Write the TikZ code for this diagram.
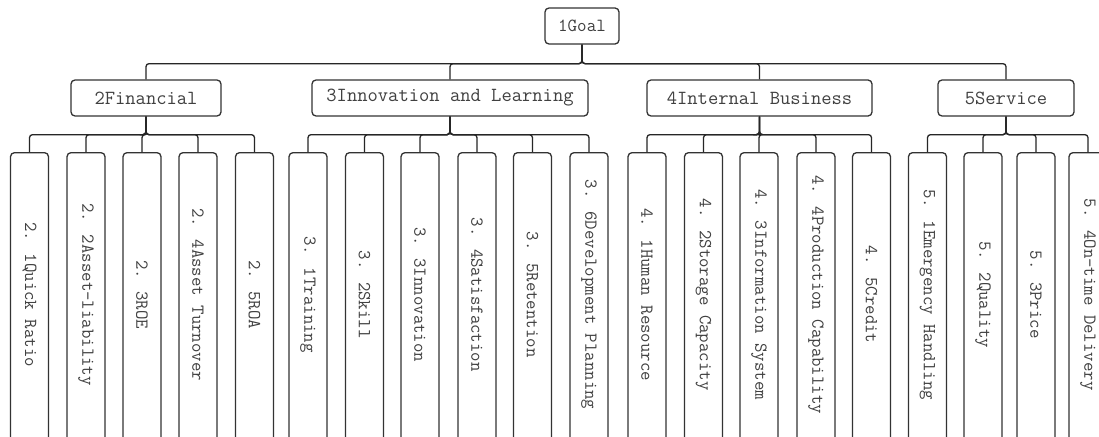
\documentclass[tikz,border=0pt]{standalone}
\usepackage{fontspec}
\begin{document}
\begin{tikzpicture}[x=1pt,y=-1pt,
  box/.style={draw=black!80, line width=1.3pt, rounded corners=4pt, fill=white, inner sep=0pt, text=black!75, font=\ttfamily\fontsize{20}{21}\selectfont},
  rootbox/.style={box, minimum width=74pt, minimum height=36pt, font=\ttfamily\fontsize{18.5}{19}\selectfont},
  midbox/.style={box, minimum height=36pt},
  leafbox/.style={box, minimum width=38pt, minimum height=296pt, anchor=north, font=\ttfamily\fontsize{18.3}{19}\selectfont},
  conn/.style={draw=black!85, line width=1.3pt, rounded corners=3pt}]
\useasboundingbox (0,0) rectangle (1099,436);
\fill[white] (0,0) rectangle (1099,436);
\node[rootbox] (root) at (582,26) {1Goal};
\node[midbox, minimum width=150pt] (fin) at (146,98) {2Financial};
\node[midbox, minimum width=276pt] (inn) at (450,98) {3Innovation and Learning};
\node[midbox, minimum width=225pt] (int) at (759.5,98) {4Internal Business};
\node[midbox, minimum width=136pt] (ser) at (1006,98) {5Service};
\foreach \c in {fin,inn,int,ser}{
  \draw[conn] (root.south) -- ++(0,19) -| (\c.north);
}
\foreach \i/\x/\p/\t in {
  1/29.5/fin/2. 1Quick Ratio,
  2/86/fin/2. 2Asset-liability,
  3/142/fin/2. 3ROE,
  4/198/fin/2. 4Asset Turnover,
  5/254.5/fin/2. 5ROA,
  6/308/inn/3. 1Training,
  7/364.5/inn/3. 2Skill,
  8/420/inn/3. 3Innovation,
  9/477/inn/3. 4Satisfaction,
  10/532.5/inn/3. 5Retention,
  11/589/inn/3. 6Development Planning,
  12/647/int/4. 1Human Resource,
  13/703.5/int/4. 2Storage Capacity,
  14/759/int/4. 3Information System,
  15/816/int/4. 4Production Capability,
  16/871.5/int/4. 5Credit,
  17/927.5/ser/5. 1Emergency Handling,
  18/983/ser/5. 2Quality,
  19/1036/ser/5. 3Price,
  20/1088/ser/5. 4On-time Delivery}{
  \node[leafbox] (l\i) at (\x,152) {\rotatebox{-90}{\t\hspace{12pt}}};
  \draw[conn] (\p.south) -- ++(0,18) -| (l\i.north);
}
\end{tikzpicture}
\end{document}
